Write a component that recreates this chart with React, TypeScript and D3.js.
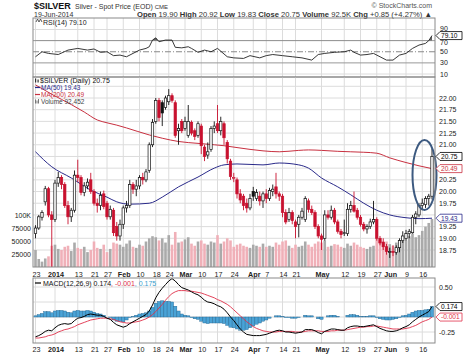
import React from 'react'
import * as d3 from 'd3'

// trading calendar (US holidays removed)
const holidays = ['2013-12-25', '2014-01-01', '2014-01-20', '2014-02-17', '2014-04-18', '2014-05-26']
const fmtDay = d3.timeFormat('%Y-%m-%d')
const days = d3.timeDay
  .range(new Date(2013, 11, 23), new Date(2014, 5, 20))
  .filter(d => d.getDay() % 6 !== 0 && !holidays.includes(fmtDay(d)))
  .map(fmtDay)

const opens = [19.10,19.22,19.45,19.78,20.06,19.50,19.40,20.18,20.30,20.15,
  19.70,19.46,19.60,20.35,20.30,19.98,20.12,20.25,20.00,19.75,
  19.70,19.95,19.75,19.46,19.60,19.25,19.05,19.30,19.65,19.70,
  20.15,20.05,20.12,20.30,20.25,20.45,21.00,21.50,21.95,21.90,
  21.80,21.92,22.05,21.90,21.30,21.50,21.35,21.20,21.48,21.30,
  21.20,21.40,20.95,20.78,20.90,21.35,21.45,21.30,21.45,21.05,
  20.65,20.30,20.25,19.95,19.90,19.75,19.65,20.00,19.85,19.90,
  19.80,19.95,19.85,20.00,20.10,19.95,19.90,19.55,19.40,19.55,
  19.35,19.30,19.45,19.40,19.80,19.62,19.55,19.25,19.05,19.00,
  19.50,19.45,19.60,19.35,19.15,19.10,19.10,19.62,19.70,19.60,
  19.45,19.30,19.20,19.25,19.35,19.40,19.00,18.92,18.82,18.70,
  18.72,18.70,18.80,18.95,19.00,19.10,19.12,19.45,19.50,19.70,
  19.72,19.85,19.90]
const highs = [19.28,19.50,19.60,20.12,20.10,19.58,20.25,20.42,20.35,20.20,
  19.80,19.65,20.45,20.68,20.35,20.20,20.28,20.40,20.05,19.85,
  20.00,20.02,19.80,19.70,19.65,19.35,19.40,19.70,19.80,20.25,
  20.20,20.25,20.35,20.40,20.48,21.05,21.55,22.00,22.00,21.95,
  22.05,22.19,22.10,21.95,21.45,21.55,21.60,21.85,21.52,21.35,
  21.50,21.45,21.00,21.05,21.40,21.50,21.85,21.60,21.50,21.10,
  20.70,20.40,20.30,20.05,19.95,19.85,19.95,20.10,20.05,20.00,
  20.00,20.05,20.08,20.15,20.40,20.00,19.95,19.62,19.65,19.60,
  19.40,19.50,19.65,19.90,19.85,19.70,19.60,19.30,19.10,19.60,
  19.60,19.70,19.65,19.40,19.20,19.40,19.75,19.80,20.00,19.65,
  19.50,19.35,19.30,19.42,19.80,19.45,19.05,19.00,18.88,18.80,
  18.85,18.85,19.00,19.15,19.18,19.20,19.50,19.58,19.75,19.85,
  19.90,19.95,20.92]
const lows = [19.00,19.18,19.38,19.70,19.45,18.35,19.35,20.10,20.05,19.65,
  19.30,19.35,19.55,20.20,19.92,19.90,20.05,19.95,19.70,19.55,
  19.60,19.62,19.40,19.40,19.05,18.95,18.95,19.20,19.55,19.65,
  19.95,19.90,20.05,20.15,20.20,20.40,20.95,21.45,21.50,21.40,
  21.75,21.85,21.90,21.15,21.00,21.25,21.30,21.15,21.20,21.10,
  21.15,20.80,20.65,20.70,20.85,21.25,21.25,21.20,21.00,20.60,
  20.25,20.20,19.85,19.75,19.60,19.55,19.60,19.80,19.80,19.70,
  19.65,19.75,19.80,19.90,19.85,19.80,19.45,19.30,19.35,19.30,
  19.00,19.02,19.40,19.35,19.55,19.50,19.20,19.00,18.75,18.95,
  19.40,19.40,19.30,19.10,19.00,19.05,19.05,19.55,19.55,19.40,
  19.25,19.15,19.10,19.20,19.30,18.95,18.85,18.75,18.65,18.58,
  18.62,18.65,18.70,18.90,18.95,19.00,19.10,19.30,19.45,19.60,
  19.65,19.70,19.83]
const closes = [19.22,19.46,19.55,20.06,19.50,19.40,20.18,20.30,20.15,19.70,
  19.46,19.60,20.35,20.30,19.98,20.12,20.20,20.00,19.75,19.70,
  19.92,19.68,19.46,19.62,19.12,19.05,19.30,19.65,19.70,20.15,
  20.05,20.12,20.30,20.25,20.42,21.00,21.48,21.95,21.58,21.68,
  22.00,22.05,21.95,21.20,21.35,21.30,21.50,21.50,21.25,21.18,
  21.45,20.98,20.75,20.85,21.35,21.40,21.30,21.50,21.15,20.70,
  20.32,20.30,19.95,19.82,19.70,19.65,19.85,19.90,19.98,19.80,
  19.95,19.85,20.02,20.05,19.95,19.90,19.55,19.35,19.55,19.38,
  19.25,19.45,19.58,19.85,19.62,19.55,19.25,19.05,18.98,19.50,
  19.45,19.60,19.35,19.15,19.08,19.12,19.62,19.70,19.58,19.45,
  19.30,19.20,19.25,19.35,19.40,19.00,18.90,18.82,18.72,18.72,
  18.70,18.80,18.95,19.05,19.10,19.15,19.45,19.52,19.70,19.75,
  19.85,19.90,20.75]
// volume in thousands
const volumes = [34,17,12,18,22,42,44,36,34,40,
  42,32,48,38,36,40,30,34,50,38,
  36,44,30,36,48,46,44,40,46,52,
  40,38,44,42,50,56,60,58,52,56,
  48,62,44,68,48,50,54,58,46,42,
  50,52,46,44,50,48,62,46,50,56,
  52,40,44,46,42,40,38,44,42,40,
  46,40,42,40,48,44,50,52,42,38,
  44,40,42,50,44,40,46,50,48,52,
  40,42,45,44,40,38,46,42,48,44,
  40,38,36,40,42,55,52,48,50,45,
  42,48,50,55,52,60,65,58,62,70,
  78,85,92.452]

const macdValues = [-0.33,-0.31,-0.28,-0.24,-0.22,-0.23,-0.18,-0.14,-0.12,-0.11,
  -0.12,-0.11,-0.06,-0.02,-0.01,0.01,0.04,0.05,0.04,0.03,
  0.03,0.01,-0.02,-0.04,-0.09,-0.13,-0.15,-0.17,-0.15,-0.11,
  -0.08,-0.05,-0.02,0.01,0.04,0.10,0.20,0.32,0.41,0.48,
  0.54,0.60,0.64,0.60,0.54,0.49,0.47,0.45,0.42,0.39,
  0.37,0.33,0.28,0.25,0.24,0.22,0.19,0.17,0.13,0.07,
  0.00,-0.06,-0.13,-0.20,-0.25,-0.29,-0.30,-0.31,-0.31,-0.31,
  -0.30,-0.29,-0.27,-0.25,-0.23,-0.22,-0.23,-0.25,-0.25,-0.26,
  -0.27,-0.26,-0.25,-0.21,-0.21,-0.21,-0.23,-0.26,-0.28,-0.24,
  -0.22,-0.20,-0.20,-0.21,-0.22,-0.22,-0.18,-0.16,-0.15,-0.15,
  -0.16,-0.16,-0.15,-0.14,-0.13,-0.16,-0.19,-0.21,-0.23,-0.24,
  -0.24,-0.23,-0.21,-0.18,-0.16,-0.13,-0.08,-0.04,0.00,0.03,
  0.06,0.09,0.174]
const signalValues = [-0.35,-0.35,-0.34,-0.33,-0.31,-0.30,-0.28,-0.25,-0.23,-0.21,
  -0.20,-0.18,-0.16,-0.13,-0.11,-0.09,-0.07,-0.05,-0.04,-0.03,
  -0.02,-0.02,-0.02,-0.03,-0.04,-0.06,-0.08,-0.09,-0.10,-0.10,
  -0.09,-0.08,-0.07,-0.05,-0.03,0.00,0.04,0.09,0.15,0.21,
  0.28,0.34,0.39,0.42,0.44,0.44,0.44,0.43,0.43,0.42,
  0.41,0.40,0.38,0.36,0.34,0.32,0.29,0.27,0.24,0.21,
  0.17,0.12,0.07,0.02,-0.03,-0.08,-0.12,-0.16,-0.19,-0.21,
  -0.23,-0.24,-0.25,-0.25,-0.25,-0.24,-0.24,-0.24,-0.24,-0.24,
  -0.25,-0.25,-0.25,-0.24,-0.23,-0.23,-0.23,-0.23,-0.24,-0.24,
  -0.24,-0.23,-0.23,-0.22,-0.22,-0.22,-0.21,-0.20,-0.19,-0.18,
  -0.17,-0.17,-0.16,-0.16,-0.15,-0.15,-0.16,-0.17,-0.18,-0.19,
  -0.20,-0.20,-0.20,-0.20,-0.19,-0.18,-0.16,-0.14,-0.11,-0.08,
  -0.06,-0.04,-0.001]

const rsiDays = ['2013-12-23','2013-12-26','2013-12-30','2014-01-03','2014-01-08','2014-01-13','2014-01-16','2014-01-21','2014-01-23','2014-01-27',
  '2014-01-29','2014-01-31','2014-02-04','2014-02-06','2014-02-10','2014-02-12','2014-02-13','2014-02-14','2014-02-18','2014-02-19',
  '2014-02-21','2014-02-25','2014-02-26','2014-02-28','2014-03-04','2014-03-05','2014-03-07','2014-03-11','2014-03-13','2014-03-17',
  '2014-03-20','2014-03-24','2014-03-27','2014-03-31','2014-04-03','2014-04-07','2014-04-09','2014-04-14','2014-04-17','2014-04-23',
  '2014-04-28','2014-04-30','2014-05-02','2014-05-07','2014-05-12','2014-05-14','2014-05-15','2014-05-19','2014-05-21','2014-05-23',
  '2014-05-28','2014-05-30','2014-06-03','2014-06-05','2014-06-09','2014-06-11','2014-06-13','2014-06-17','2014-06-18','2014-06-19']
const rsiValues = [41,50,47,45,53,56,53,55,49,50,
  43,44,41,47,53,56,59,71,75,68,
  71,71,58,57,59,56,49,53,50,56,
  41,39,38,43,39,43,45,43,41,39,
  35,45,47,49,50,53,49,44,45,47,
  41,35,35,44,47,56,62,65,70,79.1]

const ma50Days = ['2013-12-23','2013-12-31','2014-01-09','2014-01-17','2014-01-27','2014-01-30','2014-02-05','2014-02-13','2014-02-20','2014-02-27',
  '2014-03-07','2014-03-14','2014-03-19','2014-03-25','2014-04-04','2014-04-11','2014-04-22','2014-04-25','2014-05-01','2014-05-08',
  '2014-05-14','2014-05-20','2014-05-27','2014-06-02','2014-06-09','2014-06-13','2014-06-19']
const ma50Values = [20.85,20.53,20.29,20.03,19.88,19.78,19.73,19.75,19.88,20.10,
  20.31,20.50,20.57,20.59,20.57,20.61,20.57,20.50,20.29,20.10,
  19.93,19.75,19.60,19.50,19.44,19.42,19.43]
const ma200Days = ['2013-12-23','2013-12-31','2014-01-09','2014-01-15','2014-01-22','2014-01-27','2014-01-30','2014-02-04','2014-02-13','2014-02-20',
  '2014-02-27','2014-03-07','2014-03-14','2014-03-19','2014-03-25','2014-04-04','2014-04-11','2014-04-22','2014-04-25','2014-05-01',
  '2014-05-08','2014-05-14','2014-05-20','2014-05-27','2014-06-02','2014-06-09','2014-06-13','2014-06-19']
const ma200Values = [22.28,22.08,21.86,21.70,21.53,21.47,21.42,21.36,21.21,21.14,
  21.07,21.03,21.00,20.98,20.94,20.87,20.85,20.88,20.89,20.88,
  20.86,20.85,20.84,20.82,20.72,20.62,20.55,20.49]

const tickDays = ['2013-12-23','2014-01-02','2014-01-13','2014-01-21','2014-01-27','2014-02-03','2014-02-10','2014-02-18','2014-02-24','2014-03-03',
  '2014-03-10','2014-03-17','2014-03-24','2014-04-01','2014-04-07','2014-04-14','2014-04-21','2014-05-01','2014-05-12','2014-05-19',
  '2014-05-27','2014-06-02','2014-06-09','2014-06-16']
const tickLabels = ['23','2014','13','21','27','Feb','10','18','24','Mar','10','17','24','Apr','7','14','21','May','12','19','27','Jun','9','16']
const priceTicks = [18.75,19.00,19.25,19.50,19.75,20.00,20.25,20.50,20.75,21.00,21.25,21.50,21.75,22.00,22.25]
const priceTickLabels = ['18.75','19.00','19.25',null,'19.75','20.00','20.25',null,null,'21.00','21.25','21.50','21.75','22.00',null]
const volTicks = [25, 50, 75, 100]
const volTickLabels = ['25000','50000','75000','100K']
const rsiTicks = [10, 30, 50, 70, 90]
const macdTicks = [-0.25, 0, 0.25, 0.5]
const macdTickLabels = ['-0.25', null, null, '0.50']

const FONT = 'Liberation Sans, Arial, sans-serif'
const L = 33, R = 435
const RED = '#c8102e', NAVY = '#2a2a8a', MARED = '#c83040', GRID = '#dcdcdc', BORDER = '#8a8a8a'

const Tag = ({ y, text, color }: { y: number, text: string, color: string }) => (
  <g>
    <path d={`M${R + 1},${y} L${R + 5},${y - 4} H${R + 27} V${y + 4} H${R + 5} Z`} fill="white" stroke={color} strokeWidth={0.8} />
    <text x={R + 6} y={y + 2.4} fontSize={6.6} fill={color}>{text}</text>
  </g>
)

export default function App() {
  const x = d3.scalePoint<string>().domain(days).range([35.5, 432])
  const yP = d3.scaleLinear().domain([18.75, 22]).range([250, 98])
  const yV = d3.scaleLinear().domain([0, 100]).range([268, 215])
  const yR = d3.scaleLinear().domain([10, 90]).range([74, 29.5])
  const yM = d3.scaleLinear().domain([-0.25, 0.5]).range([332, 287])

  const rsiTop = 18, rsiBot = 77, mainTop = 77, mainBot = 267, macdTop = 278, macdBot = 343

  const sampleLine = (ys: d3.ScaleLinear<number, number>) =>
    d3.line<[string, number]>().x(d => x(d[0])!).y(d => ys(d[1])).curve(d3.curveMonotoneX)
  const ma50 = sampleLine(yP)(ma50Days.map((d, i) => [d, ma50Values[i]]))
  const ma200 = sampleLine(yP)(ma200Days.map((d, i) => [d, ma200Values[i]]))
  const rsiPts: [string, number][] = rsiDays.map((d, i) => [d, rsiValues[i]])
  const rsiLine = d3.line<[string, number]>().x(d => x(d[0])!).y(d => yR(d[1]))(rsiPts)
  const rsiArea = d3.area<[string, number]>().x(d => x(d[0])!).y0(yR(70)).y1(d => yR(d[1]))(rsiPts)
  const macdLine = d3.line<number>().x((_, i) => x(days[i])!).y(d => yM(d))
  const bw = x.step() * 0.8

  const vGrid = (top: number, bot: number) => tickDays.map(d => (
    <line key={d} x1={x(d)} x2={x(d)} y1={top} y2={bot} stroke={GRID} strokeWidth={1} />
  ))
  const xLabels = (yy: number) => tickDays.map((d, i) => {
    const bold = isNaN(+tickLabels[i]) || tickLabels[i] === '2014'
    return (
      <text key={d} x={x(d)! + 1} y={yy} fontSize={7.2} textAnchor="middle" fontWeight={bold ? 'bold' : 'normal'} fill="#222">{tickLabels[i]}</text>
    )
  })

  return (
    <svg width={468} height={354} style={{ position: 'absolute', left: 0, top: 0, background: 'white' }} fontFamily={FONT}>
      <defs>
        <clipPath id="cRsi"><rect x={L} y={rsiTop} width={R - L} height={rsiBot - rsiTop} /></clipPath>
        <clipPath id="cRsi70"><rect x={L} y={rsiTop} width={R - L} height={yR(70) - rsiTop} /></clipPath>
        <clipPath id="cMain"><rect x={L} y={mainTop} width={R - L} height={mainBot - mainTop} /></clipPath>
        <clipPath id="cMacd"><rect x={L} y={macdTop} width={R - L} height={macdBot - macdTop} /></clipPath>
      </defs>
      <rect width={468} height={354} fill="white" />

      {/* header */}
      <text x={34} y={9} fontSize={9} fontWeight="bold" fill="#111">$SILVER</text>
      <text x={75} y={9} fontSize={7} fill="#333">Silver - Spot Price (EOD) <tspan fontSize={6}>CME</tspan></text>
      <text x={432} y={8} fontSize={7} fill="#555" textAnchor="end">© StockCharts.com</text>
      <text x={34} y={16.5} fontSize={7} fill="#333">19-Jun-2014</text>
      <text x={432} y={16.5} fontSize={7.6} fill="#333" textAnchor="end">
        <tspan fontWeight="bold">Open</tspan> 19.90 <tspan fontWeight="bold">High</tspan> 20.92 <tspan fontWeight="bold">Low</tspan> 19.83 <tspan fontWeight="bold">Close</tspan> 20.75 <tspan fontWeight="bold">Volume</tspan> 92.5K <tspan fontWeight="bold">Chg</tspan> +0.85 (+4.27%) ▲
      </text>

      {/* RSI panel */}
      {vGrid(rsiTop, rsiBot)}
      {[90, 10].map(v => <line key={v} x1={L} x2={R} y1={yR(v)} y2={yR(v)} stroke={GRID} />)}
      <line x1={L} x2={R} y1={yR(70)} y2={yR(70)} stroke="#999" />
      <line x1={L} x2={R} y1={yR(30)} y2={yR(30)} stroke="#999" />
      <line x1={L} x2={R} y1={yR(50)} y2={yR(50)} stroke="#888" strokeDasharray="6,2,1,2" />
      <g clipPath="url(#cRsi)">
        <path d={rsiArea ?? ''} fill="#666" clipPath="url(#cRsi70)" />
        <path d={rsiLine ?? ''} fill="none" stroke="#222" strokeWidth={0.9} />
      </g>
      <rect x={L} y={rsiTop} width={R - L} height={rsiBot - rsiTop} fill="none" stroke={BORDER} />
      {rsiTicks.map(v => <text key={v} x={440} y={yR(v) + (v === 70 ? 4 : v === 90 ? 1.5 : 2.5)} fontSize={7} fill="#222">{v}</text>)}
      <Tag y={yR(79.1)} text="79.10" color="#000" />
      <path d="M36,22 l1.5,-3 l1.5,3 l1.5,-3 l1.5,3" fill="none" stroke="#333" strokeWidth={0.8} />
      <text x={43} y={25} fontSize={7} fill="#222">RSI(14) 79.10</text>

      {/* main panel */}
      {vGrid(mainTop, mainBot)}
      {priceTicks.map(v => <line key={v} x1={L} x2={R} y1={yP(v)} y2={yP(v)} stroke={GRID} />)}
      <g clipPath="url(#cMain)">
        {days.map((d, i) => {
          const up = i === 0 || closes[i] >= closes[i - 1]
          return <rect key={d} x={x(d)! - bw / 2} y={yV(volumes[i])} width={bw} height={yV(0) - yV(volumes[i])}
            fill={up ? '#aaaaaa' : '#f0b0b8'} />
        })}
        <path d={ma200 ?? ''} fill="none" stroke={MARED} strokeWidth={1} />
        <path d={ma50 ?? ''} fill="none" stroke={NAVY} strokeWidth={1} />
        {days.map((d, i) => {
          const cx = x(d)!
          const up = i === 0 ? closes[i] >= opens[i] : closes[i] >= closes[i - 1]
          const col = up ? '#111' : RED
          const filled = closes[i] < opens[i]
          const top = yP(Math.max(opens[i], closes[i]))
          const bot = yP(Math.min(opens[i], closes[i]))
          return (
            <g key={d}>
              <line x1={cx} x2={cx} y1={yP(highs[i])} y2={yP(lows[i])} stroke={col} strokeWidth={0.9} />
              <rect x={cx - 1.2} y={top} width={2.4} height={Math.max(bot - top, 0.8)} fill={filled ? col : 'white'} stroke={col} strokeWidth={0.7} />
            </g>
          )
        })}
      </g>
      <ellipse cx={424.5} cy={175} rx={12} ry={35} fill="none" stroke="#3d5a80" strokeWidth={2} />
      <rect x={L} y={mainTop} width={R - L} height={mainBot - mainTop} fill="none" stroke={BORDER} />
      {priceTicks.map((v, i) => priceTickLabels[i] &&
        <text key={v} x={439} y={yP(v) + 2.5} fontSize={7} fill="#222">{priceTickLabels[i]}</text>)}
      {volTicks.map((v, i) => <text key={v} x={31} y={yV(v) + 2.5} fontSize={7} fill="#222" textAnchor="end">{volTickLabels[i]}</text>)}
      <Tag y={yP(20.75)} text="20.75" color="#000" />
      <Tag y={yP(20.49)} text="20.49" color={MARED} />
      <Tag y={yP(19.43)} text="19.43" color={NAVY} />
      <rect x={35} y={78.5} width={1.2} height={4} fill="#333" />
      <rect x={37.5} y={79.5} width={1.2} height={3} fill="#333" />
      <text x={40} y={83} fontSize={7} fill="#111">$SILVER (Daily) 20.75</text>
      <line x1={35} x2={40} y1={87.5} y2={87.5} stroke={NAVY} strokeWidth={1.2} />
      <text x={41} y={90} fontSize={6.5} fill={NAVY}>MA(50) 19.43</text>
      <line x1={35} x2={40} y1={94.5} y2={94.5} stroke={MARED} strokeWidth={1.2} />
      <text x={41} y={97} fontSize={6.5} fill={MARED}>MA(200) 20.49</text>
      <rect x={35} y={99.5} width={1} height={4} fill="#777" />
      <rect x={36.5} y={100.5} width={1} height={3} fill="#777" />
      <rect x={38} y={99} width={1} height={4.5} fill="#777" />
      <text x={41} y={104} fontSize={6.5} fill="#444">Volume 92,452</text>

      {xLabels(276.5)}

      {/* MACD panel */}
      {vGrid(macdTop, macdBot)}
      {macdTicks.map(v => <line key={v} x1={L} x2={R} y1={yM(v)} y2={yM(v)} stroke={GRID} />)}
      <g clipPath="url(#cMacd)">
        {days.map((d, i) => {
          const h = macdValues[i] - signalValues[i]
          return <rect key={d} x={x(d)! - x.step() / 2} y={Math.min(yM(h), yM(0))} width={x.step()} height={Math.abs(yM(h) - yM(0))}
            fill="#4aa3d6" stroke="#23648f" strokeWidth={0.4} />
        })}
        <path d={macdLine(signalValues) ?? ''} fill="none" stroke="#e0304a" strokeWidth={0.9} />
        <path d={macdLine(macdValues) ?? ''} fill="none" stroke="#000" strokeWidth={1} />
      </g>
      <rect x={L} y={macdTop} width={R - L} height={macdBot - macdTop} fill="none" stroke={BORDER} />
      {macdTicks.map((v, i) => macdTickLabels[i] &&
        <text key={v} x={439} y={yM(v) + 2.5} fontSize={7} fill="#222">{macdTickLabels[i]}</text>)}
      <Tag y={yM(0.174)} text="0.174" color="#000" />
      <Tag y={yM(-0.001)} text="-0.001" color="#e0304a" />
      <line x1={35} x2={41} y1={283} y2={283} stroke="#000" strokeWidth={1.2} />
      <text x={43} y={285.5} fontSize={7} fill="#111">MACD(12,26,9) 0.174<tspan fill="#e0304a">, -0.001</tspan><tspan fill="#3b9fd0">, 0.175</tspan></text>

      {xLabels(351.5)}
    </svg>
  )
}
